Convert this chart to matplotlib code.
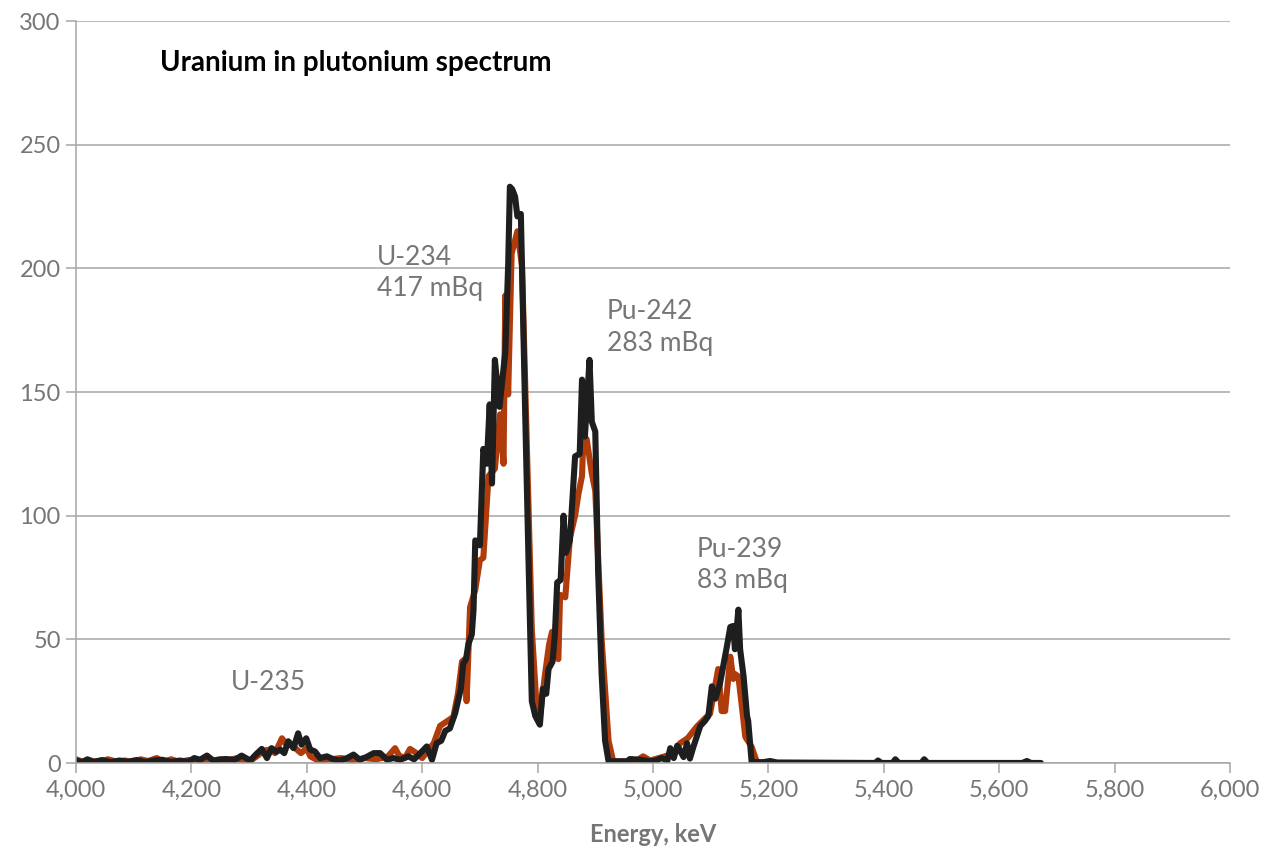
import numpy as np
import matplotlib
matplotlib.use("Agg")
import matplotlib.pyplot as plt

plt.rcParams['font.family'] = ['Lato', 'DejaVu Sans']

# black series (energy keV, counts)
energy_black = [4000, 4010, 4020, 4030, 4045, 4060, 4075, 4090, 4105, 4120, 4135, 4150,
                4165, 4180, 4195, 4205, 4215, 4227, 4238, 4250, 4261, 4275, 4287, 4302,
                4312, 4322, 4331, 4339, 4347, 4354, 4361, 4368, 4377, 4385, 4391, 4399,
                4406, 4414, 4423, 4435, 4446, 4458, 4470, 4481, 4492, 4504, 4516, 4527,
                4539, 4550, 4562, 4576, 4586, 4596, 4608, 4617, 4625, 4633, 4640, 4648,
                4657, 4662, 4667, 4671, 4676, 4680, 4686, 4689, 4692, 4700, 4706, 4712,
                4717, 4721, 4726, 4734, 4744, 4749, 4752, 4756, 4761, 4765, 4771, 4778,
                4784, 4790, 4796, 4804, 4809, 4815, 4819, 4826, 4830, 4834, 4840, 4845,
                4849, 4856, 4865, 4873, 4877, 4882, 4890, 4894, 4900, 4905, 4911, 4917,
                4923, 4955, 4960, 4978, 4995, 5005, 5015, 5025, 5030, 5036, 5042, 5047,
                5053, 5059, 5064, 5070, 5082, 5090, 5096, 5102, 5108, 5116, 5128, 5134,
                5139, 5142, 5148, 5151, 5157, 5163, 5165, 5171, 5190, 5203, 5215, 5385,
                5390, 5396, 5415, 5420, 5426, 5465, 5470, 5476, 5640, 5648, 5655, 5672]
counts_black = [1.0, 0.3, 1.5, 0.4, 1.2, 0.3, 1.0, 0.5, 1.2, 0.4, 1.0, 1.3,
                0.4, 1.0, 0.5, 2.0, 1.3, 3.0, 1.0, 1.5, 1.6, 1.2, 3.0, 1.0,
                3.5, 5.7, 2.0, 6.0, 4.5, 5.4, 4.0, 8.8, 6.0, 12.0, 7.4, 10.0,
                5.4, 4.7, 2.0, 2.7, 1.5, 1.0, 2.0, 3.4, 1.3, 2.5, 4.0, 4.0,
                1.3, 2.0, 1.3, 2.7, 1.5, 3.8, 6.7, 1.3, 8.0, 9.0, 13.0, 14.0,
                20.0, 25.0, 30.0, 40.0, 42.0, 48.0, 52.0, 62.0, 90.0, 88.0, 127.0, 121.0,
                145.0, 113.0, 163.0, 144.0, 166.0, 201.0, 233.0, 232.0, 229.0, 221.0, 222.0, 147.0,
                85.0, 25.0, 19.0, 15.5, 30.0, 28.0, 38.0, 41.0, 52.0, 73.0, 74.0, 100.0,
                85.0, 90.0, 124.0, 125.0, 155.0, 132.0, 163.0, 138.0, 134.0, 77.0, 36.0, 9.0,
                0.7, 0.7, 1.6, 1.3, 0.7, 1.0, 2.0, 1.0, 6.0, 2.0, 7.0, 5.0,
                2.4, 8.0, 1.8, 6.5, 15.0, 17.0, 19.0, 31.0, 26.0, 32.0, 47.0, 55.0,
                55.4, 46.0, 62.0, 46.0, 35.0, 19.0, 17.0, 0.4, 0.3, 0.8, 0.2, 0.0,
                1.0, 0.0, 0.0, 1.5, 0.0, 0.0, 1.5, 0.0, 0.0, 0.8, 0.0, 0.0]

# orange series
energy_orange = [4000, 4012, 4025, 4040, 4055, 4070, 4085, 4100, 4112, 4125, 4140, 4152,
                 4165, 4180, 4195, 4215, 4230, 4245, 4260, 4280, 4290, 4300, 4315, 4325,
                 4336, 4345, 4357, 4366, 4371, 4380, 4390, 4400, 4406, 4420, 4440, 4460,
                 4480, 4500, 4520, 4540, 4553, 4560, 4570, 4579, 4590, 4600, 4610, 4620,
                 4631, 4647, 4654, 4662, 4669, 4674, 4677, 4683, 4692, 4700, 4706, 4715,
                 4726, 4735, 4741, 4744, 4749, 4755, 4765, 4773, 4781, 4790, 4799, 4804,
                 4813, 4820, 4825, 4830, 4836, 4839, 4848, 4856, 4865, 4871, 4877, 4879,
                 4885, 4894, 4900, 4911, 4923, 4931, 4960, 4975, 4983, 4995, 5010, 5025,
                 5040, 5047, 5060, 5076, 5090, 5099, 5113, 5119, 5125, 5134, 5139, 5142,
                 5148, 5154, 5160, 5171, 5180, 5200, 5672]
counts_orange = [1.5, 0.5, 1.0, 0.3, 1.5, 0.6, 1.0, 0.3, 1.5, 0.8, 2.0, 0.5,
                 1.5, 0.4, 1.2, 1.0, 1.5, 0.5, 1.0, 2.0, 0.3, 0.5, 3.0, 5.0,
                 5.4, 4.0, 10.0, 7.0, 8.0, 6.0, 4.0, 6.0, 2.7, 1.0, 1.5, 2.0,
                 1.0, 2.0, 1.5, 2.5, 6.0, 3.0, 2.0, 5.7, 4.0, 2.0, 5.0, 8.0,
                 15.0, 17.5, 18.6, 28.0, 41.0, 42.0, 25.0, 63.0, 70.0, 82.0, 83.0, 116.0,
                 119.0, 141.0, 121.0, 189.0, 149.0, 206.0, 215.0, 201.0, 132.0, 54.0, 20.0, 18.6,
                 36.0, 48.0, 53.0, 45.0, 42.0, 68.0, 67.0, 91.0, 100.0, 109.0, 116.0, 130.0,
                 131.0, 117.0, 110.0, 50.0, 9.0, 0.7, 0.5, 1.5, 2.7, 1.0, 2.0, 3.0,
                 5.0, 8.0, 10.0, 14.7, 18.0, 20.0, 38.0, 21.0, 21.0, 43.0, 34.0, 36.0,
                 35.0, 23.0, 10.6, 6.5, 0.4, 0.0, 0.0]

x_ticks = np.arange(4000, 6001, 200)
y_ticks = np.arange(0, 301, 50)

labels = ["U-235", "U-234\n417 mBq", "Pu-242\n283 mBq", "Pu-239\n83 mBq"]
label_x = [4334, 4522, 4920, 5076]
label_y = [37.5, 209.5, 187.5, 91.5]

grey = '#A6A6A6'
text_grey = '#767676'

fig = plt.figure(figsize=(12.64, 8.51), dpi=100)
ax = fig.add_axes([0.0601, 0.1034, 0.913, 0.8719])

ax.plot(energy_orange, counts_orange, color='#B03C0C', lw=4.4,
        solid_joinstyle='round', solid_capstyle='round')
ax.plot(energy_black, counts_black, color='#1E1E1E', lw=4.4,
        solid_joinstyle='round', solid_capstyle='round')

ax.set_xlim(4000, 6000)
ax.set_ylim(0, 300)
ax.set_xticks(x_ticks)
ax.set_xticklabels([f"{v:,}" for v in x_ticks])
ax.set_yticks(y_ticks)
ax.grid(axis='y', color=grey, lw=1.1)
ax.set_axisbelow(True)
for s in ['top', 'right']:
    ax.spines[s].set_visible(False)
for s in ['left', 'bottom']:
    ax.spines[s].set_color(grey)
    ax.spines[s].set_linewidth(1.1)
ax.tick_params(axis='both', colors=grey, labelcolor=text_grey, labelsize=17,
               width=1.1, length=7)
ax.tick_params(axis='x', pad=5)
ax.tick_params(axis='y', pad=4)

ax.set_xlabel("Energy, keV", fontsize=17, fontweight='bold', color=text_grey, labelpad=16)

ax.text(4146, 283, "Uranium in plutonium spectrum", fontsize=20, fontweight='bold',
        color='black', va='center', ha='left')
for t, lx, ly in zip(labels, label_x, label_y):
    ax.text(lx, ly, t, fontsize=19, color=text_grey, va='top',
            ha='center' if '\n' not in t else 'left', linespacing=1.32)

fig.savefig("out.png", dpi=100)
